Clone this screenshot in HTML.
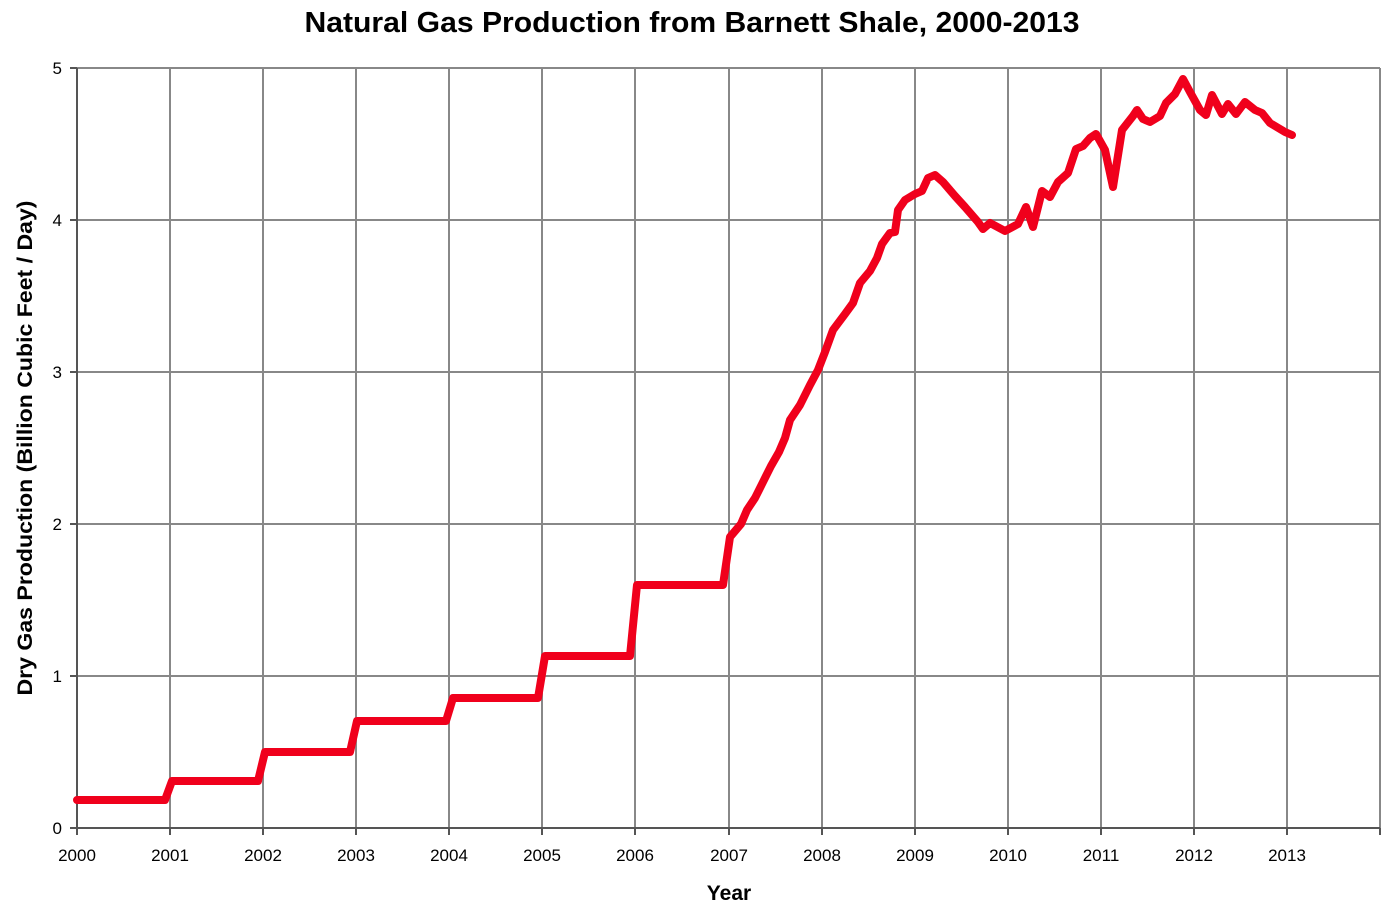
<!DOCTYPE html>
<html><head><style>body{margin:0;background:#fff}svg{display:block}</style></head><body>
<svg width="1397" height="914" xmlns="http://www.w3.org/2000/svg" font-family="Liberation Sans, sans-serif">
<rect width="1397" height="914" fill="#fff"/>
<text x="692" y="32" text-anchor="middle" font-size="29" font-weight="bold" textLength="775" lengthAdjust="spacingAndGlyphs">Natural Gas Production from Barnett Shale, 2000-2013</text>
<g stroke="#888" stroke-width="2" fill="none">
<path d="M170,68V828M263,68V828M356,68V828M449,68V828M542,68V828M635,68V828M729,68V828M822,68V828M915,68V828M1008,68V828M1101,68V828M1194,68V828M1287,68V828M1380,68V828"/>
<path d="M77,68H1380M77,220H1380M77,372H1380M77,524H1380M77,676H1380"/>
</g>
<g stroke="#555" stroke-width="2" fill="none"><path d="M77,68V828H1380"/>
<path d="M70,68H77M70,220H77M70,372H77M70,524H77M70,676H77M70,828H77"/>
<path d="M77,828v7M170,828v7M263,828v7M356,828v7M449,828v7M542,828v7M635,828v7M729,828v7M822,828v7M915,828v7M1008,828v7M1101,828v7M1194,828v7M1287,828v7M1380,828v7"/></g>
<g font-size="17" text-anchor="end"><text x="62" y="74">5</text><text x="62" y="226">4</text><text x="62" y="378">3</text><text x="62" y="530">2</text><text x="62" y="682">1</text><text x="62" y="834">0</text></g>
<g font-size="17" text-anchor="middle"><text x="77" y="861">2000</text><text x="170" y="861">2001</text><text x="263" y="861">2002</text><text x="356" y="861">2003</text><text x="449" y="861">2004</text><text x="542" y="861">2005</text><text x="635" y="861">2006</text><text x="729" y="861">2007</text><text x="822" y="861">2008</text><text x="915" y="861">2009</text><text x="1008" y="861">2010</text><text x="1101" y="861">2011</text><text x="1194" y="861">2012</text><text x="1287" y="861">2013</text></g>
<text x="729" y="900" text-anchor="middle" font-size="21" font-weight="bold">Year</text>
<text transform="translate(32,448) rotate(-90)" text-anchor="middle" font-size="21" font-weight="bold" textLength="495" lengthAdjust="spacingAndGlyphs">Dry Gas Production (Billion Cubic Feet / Day)</text>
<polyline fill="none" stroke="#f0001c" stroke-width="8" stroke-linejoin="round" stroke-linecap="round" points="77,800 165,800 172,781 258,781 265,752 350,752 357,721 446,721 453,698 538,698 545,656 630,656 637,585 723,585 730,537 741,524 747,510 755,498 763,482 771,466 779,452 785,438 790,420 800,405 810,385 818,370 825,352 833,330 845,314 853,303 860,283 870,271 877,258 882,244 890,233 895,232 898,210 905,200 915,194 922,191 928,178 935,175 943,182 955,196 965,207 978,222 983,229 990,223 1005,231 1018,224 1026,207 1033,227 1042,191 1050,197 1058,182 1068,173 1076,149 1083,146 1090,138 1096,134 1105,150 1113,187 1122,130 1133,116 1137,110 1143,119 1150,122 1160,116 1166,103 1175,94 1183,79 1190,92 1200,110 1206,115 1212,95 1222,114 1228,104 1236,114 1245,102 1255,110 1262,113 1270,123 1285,132 1292,135"/>
</svg>
</body></html>
